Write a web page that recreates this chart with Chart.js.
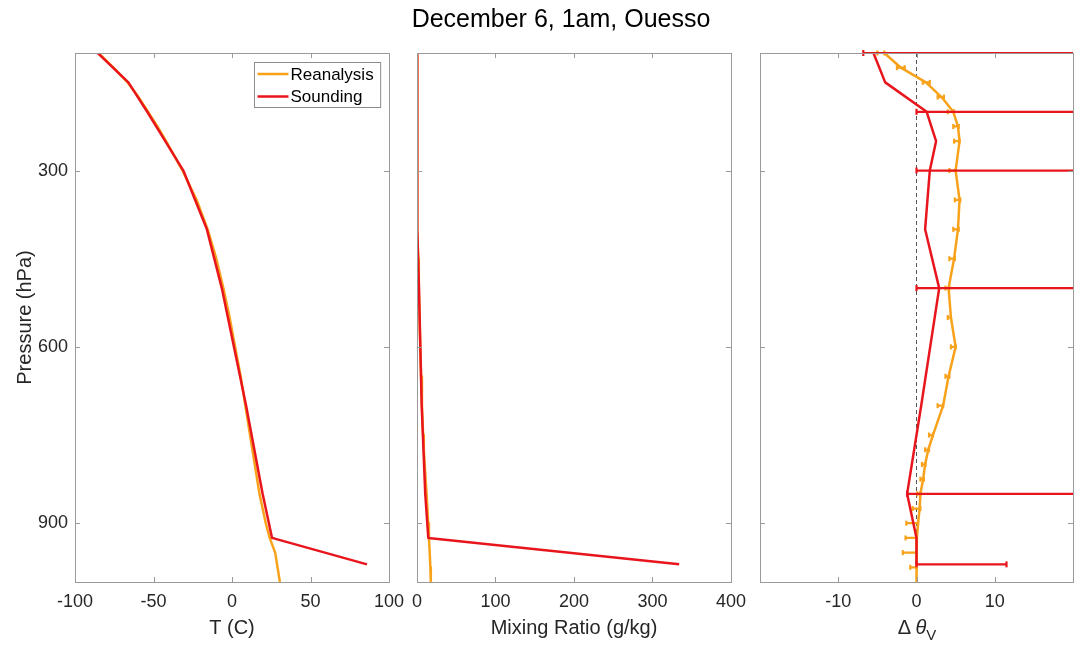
<!DOCTYPE html>
<html>
<head>
<meta charset="utf-8">
<script src="https://cdn.jsdelivr.net/npm/chart.js@4.4.1/dist/chart.umd.min.js"></script>
<style>
  body { margin: 0; background: #fff; }
  #fig { position: relative; width: 1083px; height: 645px; overflow: hidden; font-family: "Liberation Sans", Arial, Helvetica, sans-serif; color: #262626; }
  canvas { position: absolute; top: 0; }
  #title { position: absolute; top: 3px; left: 561px; transform: translateX(-50%); font-size: 25px; line-height: 30px; color: #000; white-space: nowrap; }
  #dthLabel { position: absolute; top: 615px; left: 917px; transform: translateX(-50%); font-size: 20px; line-height: 24px; white-space: nowrap; }
  #dthLabel sub { font-size: 15px; vertical-align: -6px; line-height: 0; }
</style>
</head>
<body>
<div id="fig">
  <canvas id="tempChart" width="420" height="645" style="left:0px"></canvas>
  <canvas id="mixChart" width="355" height="645" style="left:400px"></canvas>
  <canvas id="dthChart" width="338" height="645" style="left:745px"></canvas>
  <div id="title">December 6, 1am, Ouesso</div>
  <div id="dthLabel">Δ <i>θ</i><sub>V</sub></div>
</div>
<script>
// reanalysis pressure levels (hPa)
const eraLevels = [100, 125, 150, 175, 200, 225, 250, 300, 350, 400, 450, 500, 550, 600, 650, 700, 750, 775, 800, 825, 850, 875, 900, 925, 950, 975, 1000];
const eraTemp = [-85, -75.5, -66.5, -59.5, -53.5, -47.5, -42, -31.5, -22.5, -15.5, -10, -5.5, -1.5, 2, 5.5, 8.5, 11.5, 13, 14.5, 16, 17.5, 19.5, 21.5, 24, 27.5, 29, 30.5];
const eraMix = [0.01, 0.01, 0.02, 0.03, 0.05, 0.08, 0.13, 0.3, 0.6, 1.0, 1.6, 2.3, 3.2, 4.2, 5.2, 6.3, 7.8, 8.7, 9.8, 11, 12.2, 13.3, 14.3, 15.2, 16.2, 17, 17.6];
const eraDthv = [-4.1, -2.0, 1.2, 3.2, 4.7, 5.3, 5.5, 5.0, 5.5, 5.3, 4.8, 4.1, 4.4, 5.0, 4.1, 3.4, 2.1, 1.5, 1.1, 0.85, 0.5, 0.4, 0.2, 0.05, 0, 0, 0];
const eraDthvLo = [-5.0, -2.5, 0.8, 2.7, 4.0, 4.7, 4.8, 4.2, 4.9, 4.7, 4.2, 3.7, 4.0, 4.4, 3.7, 2.7, 1.6, 1.1, 0.7, 0.5, 0.1, -0.5, -1.3, -1.4, -1.75, -0.8, null];
const eraDthvHi = [-4.1, -1.5, 1.7, 3.5, 4.8, 5.4, 5.5, 5.0, 5.6, 5.4, 4.9, 4.2, 4.4, 5.0, 4.2, 3.4, 2.1, 1.6, 1.15, 0.95, 0.5, 0.5, 0.2, 0.05, 0, 0, null];

// sounding levels (hPa)
const sndLevels = [100, 150, 200, 250, 300, 400, 500, 700, 850, 925, 970];
const sndTemp = [-85.5, -66, -54, -42.5, -31, -16, -6.5, 9, 19.5, 25.5, 86];
const sndMix = [0.01, 0.02, 0.05, 0.1, 0.3, 1.2, 2.5, 6, 10.5, 14.4, 334];
const sndDthv = [-5.5, -4.0, 1.3, 2.5, 1.7, 1.1, 2.9, 0.6, -1.2, 0, 0];
const sndBarLevels = [100, 200, 300, 500, 850, 970];
const sndBarLo = [-6.8, 0, 0, 0, -1.2, 0];
const sndBarHi = [25, 25, 25, 25, 25, 11.5];

const pressureTicks = [300, 600, 900];
const tempTicks = [-100, -50, 0, 50, 100];
const mixTicks = [0, 100, 200, 300, 400];
const dthTicks = [-10, 0, 10];

const FONT = "'Liberation Sans', Arial, Helvetica, sans-serif";
const RED = 'rgb(232, 22, 28)';
const ORANGE = 'rgb(248, 162, 28)';
const AXIS_GRAY = '#9a9a9a';
const TEXT = '#262626';

function profile(values, levels) {
    return levels.map((p, i) => ({ x: values[i], y: p }));
}

function barData(levels, lo, hi) {
    let out = [];
    levels.forEach((p, i) => {
        if (lo[i] === null) return;
        out.push({ x: lo[i], y: p }, { x: hi[i], y: p }, { x: hi[i], y: null });
    });
    return out;
}

// box round the axes, inward ticks on all four sides, legend
const matlabBox = {
    id: 'matlabBox',
    afterDatasetsDraw(chart, args, opts) {
        const ctx = chart.ctx;
        const ca = chart.chartArea;
        const xs = chart.scales.x, ys = chart.scales.y;
        ctx.save();
        ctx.strokeStyle = AXIS_GRAY;
        ctx.lineWidth = 1;
        ctx.beginPath();
        xs.ticks.forEach(t => {
            if (t.value <= xs.min || t.value >= xs.max) return;
            const px = Math.round(xs.getPixelForValue(t.value)) + 0.5;
            ctx.moveTo(px, ca.bottom); ctx.lineTo(px, ca.bottom - 5);
            ctx.moveTo(px, ca.top); ctx.lineTo(px, ca.top + 5);
        });
        ys.ticks.forEach(t => {
            const py = Math.round(ys.getPixelForValue(t.value)) + 0.5;
            ctx.moveTo(ca.left, py); ctx.lineTo(ca.left + 5, py);
            ctx.moveTo(ca.right, py); ctx.lineTo(ca.right - 5, py);
        });
        ctx.stroke();
        ctx.strokeRect(Math.round(ca.left) + 0.5, Math.round(ca.top) + 0.5, Math.round(ca.right - ca.left), Math.round(ca.bottom - ca.top));

        if (opts.legend) {
            ctx.font = '17px ' + FONT;
            const widths = opts.legend.map(l => ctx.measureText(l).width);
            const w = 38 + Math.max(...widths) + 5;
            const h = 45;
            const x0 = Math.round(ca.right - 9 - w) + 0.5;
            const y0 = Math.round(ca.top + 9) + 0.5;
            ctx.fillStyle = '#fff';
            ctx.fillRect(x0, y0, w, h);
            ctx.strokeStyle = '#8c8c8c';
            ctx.strokeRect(x0, y0, w, h);
            opts.legend.forEach((label, i) => {
                const ds = chart.data.datasets.find(d => d.label === label);
                const yy = y0 + 11.5 + i * 22.5;
                ctx.strokeStyle = ds.borderColor;
                ctx.lineWidth = 2.5;
                ctx.beginPath();
                ctx.moveTo(x0 + 3, yy); ctx.lineTo(x0 + 34, yy);
                ctx.stroke();
                ctx.fillStyle = '#000';
                ctx.textBaseline = 'middle';
                ctx.textAlign = 'left';
                ctx.fillText(label, x0 + 36, yy + 1);
            });
        }
        ctx.restore();
    },
};

function xScale(min, max, tickValues, title) {
    return {
        type: 'linear',
        min: min,
        max: max,
        afterBuildTicks: s => { s.ticks = tickValues.map(v => ({ value: v })); },
        afterFit: s => { s.height = 63; },
        grid: { display: false, drawTicks: false },
        border: { display: false },
        ticks: {
            color: TEXT,
            padding: 9,
            maxRotation: 0,
            autoSkip: false,
            font: { family: FONT, size: 18 },
        },
        title: {
            display: !!title,
            text: title,
            color: TEXT,
            font: { family: FONT, size: 20 },
            padding: { top: 0, bottom: 5 },
        },
    };
}

function yScale(showLabels) {
    return {
        type: 'linear',
        min: 100,
        max: 1000,
        reverse: true,
        display: showLabels,
        afterBuildTicks: s => { s.ticks = pressureTicks.map(v => ({ value: v })); },
        afterFit: s => { s.width = showLabels ? 75 : 0; },
        grid: { display: false, drawTicks: false },
        border: { display: false },
        ticks: {
            color: TEXT,
            padding: 7,
            font: { family: FONT, size: 18 },
        },
        title: {
            display: showLabels,
            text: 'Pressure (hPa)',
            color: TEXT,
            font: { family: FONT, size: 20 },
            padding: { top: 13, bottom: 0 },
        },
    };
}

function baseConfig(datasets, xs, ys, padding, plugOpts) {
    return {
        type: 'line',
        data: { datasets: datasets },
        options: {
            responsive: false,
            animation: false,
            events: [],
            layout: { padding: padding },
            elements: {
                line: { borderJoinStyle: 'round', borderCapStyle: 'butt', tension: 0 },
                point: { radius: 0 },
            },
            plugins: {
                legend: { display: false },
                tooltip: { enabled: false },
                matlabBox: plugOpts,
            },
            scales: { x: xs, y: ys },
        },
        plugins: [matlabBox],
    };
}

function lineSet(label, data, color, order) {
    return { label: label, data: data, borderColor: color, backgroundColor: color, borderWidth: 2.5, pointRadius: 0, spanGaps: false, order: order };
}

// horizontal error bars, caps drawn as rotated line points; not clipped at top/bottom
function barSet(label, data, color, capRadius, order) {
    return {
        label: label,
        data: data,
        borderColor: color,
        backgroundColor: color,
        borderWidth: 2.2,
        spanGaps: false,
        pointStyle: 'line',
        pointRotation: 90,
        pointRadius: capRadius,
        pointBorderWidth: 2.2,
        pointBorderColor: color,
        clip: { left: 0, right: 0, top: 6, bottom: 6 },
        order: order,
    };
}

new Chart(document.getElementById('tempChart'), baseConfig(
    [
        lineSet('Sounding', profile(sndTemp, sndLevels), RED, 1),
        lineSet('Reanalysis', profile(eraTemp, eraLevels), ORANGE, 2),
    ],
    xScale(-100, 100, tempTicks, 'T (C)'),
    yScale(true),
    { top: 53, right: 31, left: 0, bottom: 0 },
    { legend: ['Reanalysis', 'Sounding'] }
));

new Chart(document.getElementById('mixChart'), baseConfig(
    [
        lineSet('Sounding', profile(sndMix, sndLevels), RED, 1),
        lineSet('Reanalysis', profile(eraMix, eraLevels), ORANGE, 2),
    ],
    xScale(0, 400, mixTicks, 'Mixing Ratio (g/kg)'),
    yScale(false),
    { top: 53, right: 24, left: 17, bottom: 0 },
    {}
));

new Chart(document.getElementById('dthChart'), baseConfig(
    [
        lineSet('Sounding', profile(sndDthv, sndLevels), RED, 1),
        barSet('Sounding range', barData(sndBarLevels, sndBarLo, sndBarHi), RED, 3, 2),
        lineSet('Reanalysis', profile(eraDthv, eraLevels), ORANGE, 3),
        barSet('Reanalysis range', barData(eraLevels, eraDthvLo, eraDthvHi), ORANGE, 2.5, 4),
        { label: 'zero', data: [{ x: 0, y: 100 }, { x: 0, y: 1000 }], borderColor: '#555', borderWidth: 1, borderDash: [4, 3], pointRadius: 0, order: 5 },
    ],
    xScale(-20, 20, dthTicks, ''),
    yScale(false),
    { top: 53, right: 10, left: 15, bottom: 0 },
    {}
));
</script>
</body>
</html>
